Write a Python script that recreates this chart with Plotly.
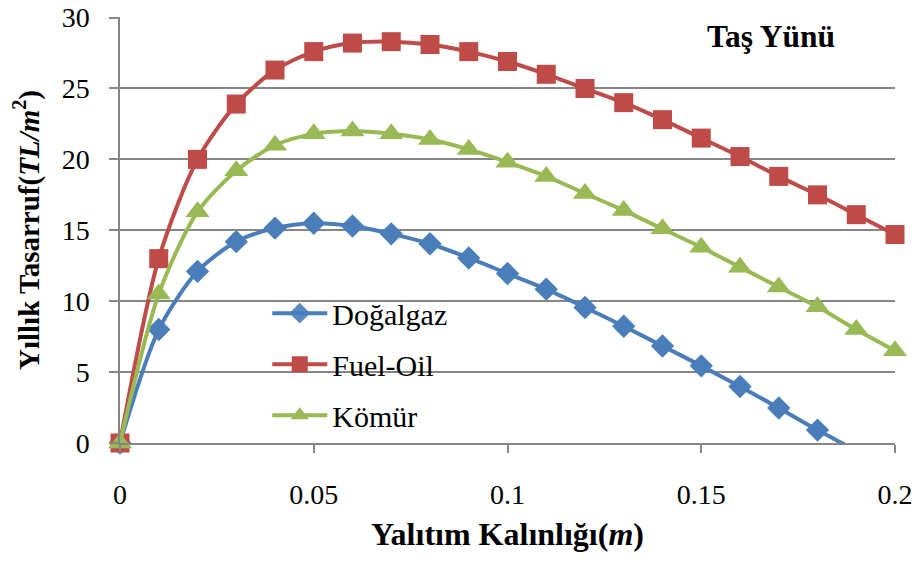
import plotly.graph_objects as go

thickness = [0.0, 0.01, 0.02, 0.03, 0.04, 0.05, 0.06, 0.07, 0.08, 0.09, 0.10,
             0.11, 0.12, 0.13, 0.14, 0.15, 0.16, 0.17, 0.18, 0.19, 0.20]
dogalgaz = [0.0, 8.0, 12.1, 14.2, 15.15, 15.5, 15.3, 14.75, 14.05, 13.05, 11.95,
            10.85, 9.56, 8.23, 6.84, 5.44, 3.98, 2.47, 0.91, -0.55, -2.1]
fuel_oil = [0.0, 13.0, 20.0, 23.9, 26.3, 27.6, 28.2, 28.3, 28.1, 27.6, 26.9,
            26.0, 25.0, 24.0, 22.8, 21.5, 20.2, 18.8, 17.5, 16.1, 14.7]
komur = [0.0, 10.5, 16.3, 19.2, 21.0, 21.8, 22.0, 21.8, 21.4, 20.7, 19.8,
         18.8, 17.6, 16.4, 15.1, 13.8, 12.4, 11.0, 9.6, 8.0, 6.5]
series_names = ["Doğalgaz", "Fuel-Oil", "Kömür"]
x_ticks = [0, 0.05, 0.1, 0.15, 0.2]
x_tick_labels = ["0", "0.05", "0.1", "0.15", "0.2"]
y_ticks = [0, 5, 10, 15, 20, 25, 30]

FONT = "Liberation Serif, Times New Roman, serif"
colors = ["#4A7EBB", "#BE4B48", "#98B954"]
symbols = ["diamond", "square", "triangle-up"]
sizes = [18, 19, 21]

fig = go.Figure()
for i, (name, vals) in enumerate(zip(series_names, [dogalgaz, fuel_oil, komur])):
    fig.add_trace(go.Scatter(
        x=thickness, y=vals, name=name, mode="lines+markers",
        legendgroup=str(i),
        line=dict(color=colors[i], width=4, shape="spline", smoothing=0.8),
        marker=dict(symbol=symbols[i], size=sizes[i], color=colors[i],
                    opacity=[1 if v >= 0 else 0 for v in vals]),
        cliponaxis=False,
    ))

grid = "#868686"
fig.update_layout(
    width=920, height=565,
    margin=dict(l=120, r=25, t=17, b=122),
    paper_bgcolor="white", plot_bgcolor="white",
    font=dict(family=FONT, color="black", size=28),
    showlegend=True,
    legend=dict(x=0.19, y=0.185, xanchor="left", yanchor="middle",
                bgcolor="rgba(0,0,0,0)", font=dict(size=30, family=FONT),
                itemwidth=55, tracegroupgap=9, traceorder="grouped"),
    xaxis=dict(range=[0, 0.2], tickvals=x_ticks, ticktext=x_tick_labels,
               showgrid=False, showline=True, linecolor=grid, linewidth=1.5,
               ticks="outside", ticklen=8, tickcolor=grid, tickwidth=1.5,
               tickfont=dict(size=28), ticklabelstandoff=18, zeroline=False,
               ticklabeloverflow="allow", automargin="bottom",
               title=dict(text="<b>Yalıtım Kalınlığı(<i>m</i>)</b>",
                          font=dict(size=32), standoff=13)),
    yaxis=dict(range=[0, 30.04], tickvals=y_ticks, showgrid=True, gridcolor=grid,
               gridwidth=1.5, showline=True, linecolor=grid, linewidth=1.5,
               ticks="outside", ticklen=9, tickcolor=grid, tickwidth=1.5,
               tickfont=dict(size=28), ticklabelstandoff=14, zeroline=False,
               ticklabeloverflow="allow", automargin="left",
               title=dict(text="<b>Yıllık Tasarruf(<i>TL/m</i><sup>2</sup>)</b>",
                          font=dict(size=29), standoff=14)),
    annotations=[dict(text="<b>Taş Yünü</b>", x=0.84, y=0.955, xref="paper",
                      yref="paper", showarrow=False, font=dict(size=31.5),
                      xanchor="center", yanchor="middle")],
)

fig.write_html("out.html")
